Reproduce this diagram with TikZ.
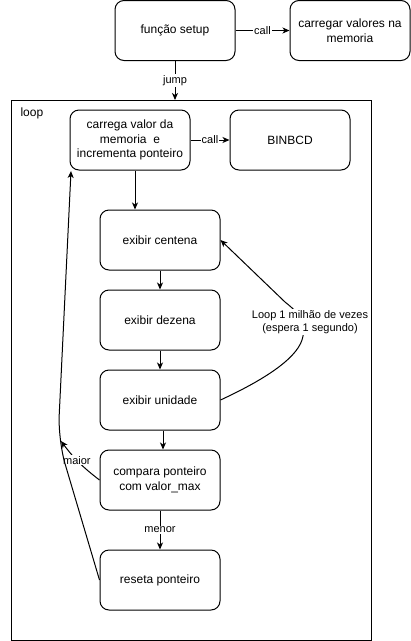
\documentclass[tikz,border=0pt]{standalone}
\usepackage{fontspec}
\setmainfont{Liberation Sans}
\usetikzlibrary{arrows.meta}
\tikzset{
    blk/.style={draw, line width=1pt, rounded corners=9pt, minimum width=120pt,
    	minimum height=60pt, align=center, font=\fontsize{12}{14.5}\selectfont}
}
\tikzset{
    lbl/.style={fill=white, inner sep=1pt, font=\fontsize{11}{13}\selectfont}
}
\tikzset{
	arr/.style={line width=1pt, -{Stealth[length=7pt,width=6pt,inset=2pt]}}
}

\begin{document}
\begin{tikzpicture}[x=1pt,y=-1pt]
	\useasboundingbox (0,0) rectangle (411,641);
	\draw[line width=1pt] (11,100) rectangle (371,640);
	\node (looplbl) [anchor=west, font=\fontsize{12}{14}\selectfont] at (17,113) {loop};
	\coordinate (looptop) at (175,100);

	\node (setup) [blk] at (175,30.5) {função setup};
	\node (memoria) [blk] at (350,30.5) {carregar valores na\\memoria};
	\node (carrega) [blk] at (130,140) {carrega valor da\\memoria \ e\\incrementa ponteiro};
	\node (binbcd) [blk] at (290,140) {BINBCD};
	\node (centena) [blk] at (160,240) {exibir centena};
	\node (dezena) [blk] at (160,320) {exibir dezena};
	\node (unidade) [blk] at (160,400) {exibir unidade};
	\node (compara) [blk] at (160,480) {compara ponteiro\\com valor\_max};
	\node (reseta) [blk] at (160,580) {reseta ponteiro};
	\coordinate (bend) at (58,440);
	\coordinate (maiorend) at (61,441);

	\draw[arr] (setup) -- node[lbl] {call} (memoria);
	\draw[arr] (setup) -- node[lbl, pos=.5] {jump} (looptop);
	\draw[arr] (carrega) -- node[lbl] {call} (binbcd);
	\draw[arr] ([xshift=5pt]carrega.south) -- ([xshift=5pt]carrega.south |- centena.north);
	\draw[arr] (centena) -- (dezena);
	\draw[arr] (dezena) -- (unidade);
	\draw[arr] ([xshift=3pt]unidade.south) -- ([xshift=3pt]compara.north);
	\draw[arr] (compara) -- node[lbl, pos=.5] {menor} (reseta);
	\draw[arr] (compara.west) to[bend left=8] node[lbl, pos=.55] {maior} (maiorend);
	\draw[arr, rounded corners=25pt] (reseta.west) -- (bend) -- (71,171);
	\draw[arr] (unidade.east) .. controls (268,378) and (300,356) .. (303,336)
		.. controls (305,318) and (295,310) .. (285,302) -- (centena.east);
	\node (loopnote) [lbl, align=center] at (310,322) {Loop 1 milhão de vezes\\(espera 1 segundo)};
\end{tikzpicture}
\end{document}
